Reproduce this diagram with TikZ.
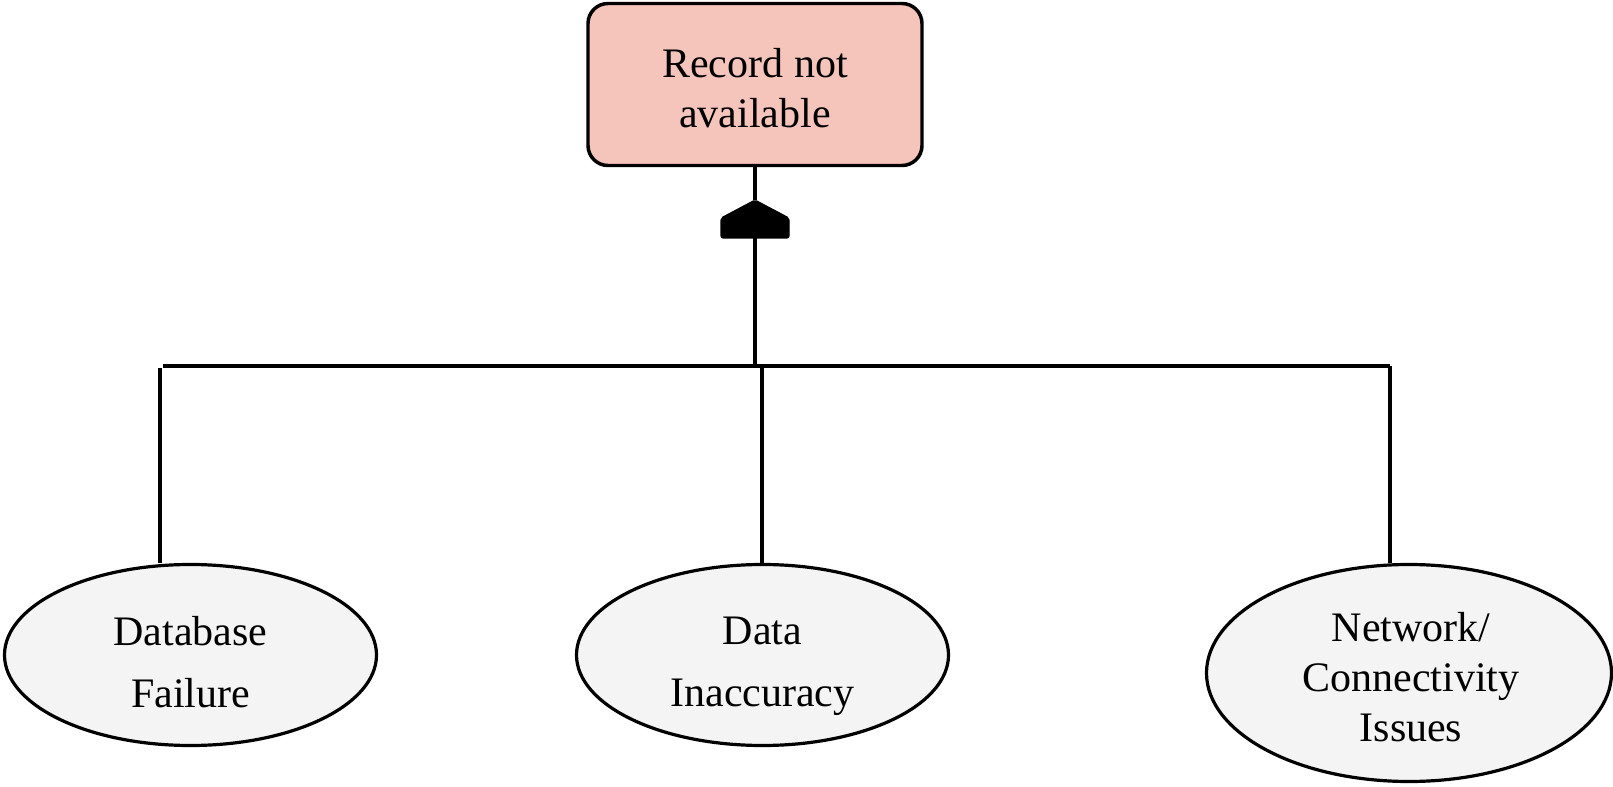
\documentclass[tikz,border=0pt]{standalone}
\usepackage{fontspec}
\setmainfont{Liberation Serif}
\usetikzlibrary{shapes.geometric,calc}
\definecolor{topfill}{HTML}{F5C4BB}
\definecolor{leaffill}{HTML}{F4F4F4}
\begin{document}
\begin{tikzpicture}[x=0.75pt,y=-0.75pt,
  topbox/.style={draw=black, line width=2.6pt, fill=topfill, rounded corners=15pt,
    minimum width=250.5pt, minimum height=121.5pt, inner sep=0pt},
  leaf/.style={ellipse, draw=black, line width=2.4pt, fill=leaffill, inner sep=0pt},
  lbl/.style={align=center, inner sep=0pt, font=\fontsize{31.5}{37.5}\selectfont},
  wire/.style={line width=2.5pt},
  gatefill/.style={fill=black, draw=black, line width=0.8pt, rounded corners=1.5pt}]
  \useasboundingbox (0,0) rectangle (1613,787);

  % top event
  \node[topbox] (top) at (755,84.5) {};
  \node[lbl] (topT) at (755,87.7) {Record not\\available};

  % gate symbol
  \coordinate (gtop) at (755,200);
  \coordinate (gbot) at (755,238);
  \draw[gatefill] (721,238) -- (721,218) -- (gtop) -- (789,218) -- (789,238) -- cycle;

  % bus bar
  \coordinate (junc) at (755,366);
  \coordinate (barL) at (163,366);
  \coordinate (barR) at (1390,366);
  \coordinate (midT) at (762,366);
  \coordinate (leftT) at (160,368);

  % basic events
  \node[leaf, minimum width=279pt, minimum height=135.75pt] (db) at (190.5,655) {};
  \node[lbl] (dbT) at (190.5,661.7) {Database\\[9pt]Failure};
  \node[leaf, minimum width=279pt, minimum height=135.75pt] (da) at (762.5,655) {};
  \node[lbl] (daT) at (762.5,666.7) {Data\\[9pt]Inaccuracy};
  \node[leaf, minimum width=303.75pt, minimum height=162.75pt] (net) at (1409,673) {};
  \node[lbl] (netT) at (1411,677.2) {Network/\\Connectivity\\Issues};

  % connectors
  \draw[wire] (top.south) -- (gtop);
  \draw[wire] (gbot) -- (junc);
  \draw[wire] (barL) -- (barR);
  \draw[wire] (leftT) -- (leftT |- db.north);
  \draw[wire] (midT) -- (midT |- da.north);
  \draw[wire] (barR) -- (barR |- net.north);
\end{tikzpicture}
\end{document}
